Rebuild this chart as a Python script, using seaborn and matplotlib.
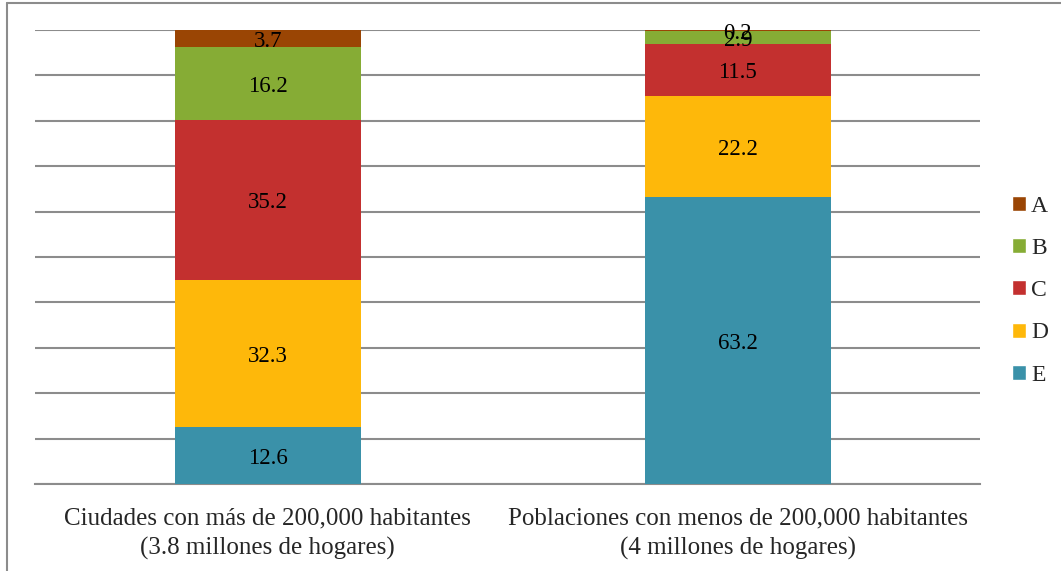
import pandas as pd
import matplotlib.pyplot as plt
import seaborn as sns
from matplotlib.patches import Patch
from matplotlib.lines import Line2D

categories = ["Ciudades con más de 200,000 habitantes\n(3.8 millones de hogares)",
              "Poblaciones con menos de 200,000 habitantes\n(4 millones de hogares)"]
segments = ["A", "B", "C", "D", "E"]
values_a = [3.7, 0.2]
values_b = [16.2, 2.9]
values_c = [35.2, 11.5]
values_d = [32.3, 22.2]
values_e = [12.6, 63.2]
colors = {"A": "#9A4504", "B": "#86AC35", "C": "#C3302F", "D": "#FEB80A", "E": "#3A91A9"}

sns.set_style("white")
plt.rcParams['font.family'] = ['Liberation Serif', 'DejaVu Serif']

df = pd.DataFrame({"cat": categories, "A": values_a, "B": values_b,
                   "C": values_c, "D": values_d, "E": values_e})

fig = plt.figure(figsize=(10.61, 5.71), dpi=100)
ax = fig.add_axes([35 / 1061, 1 - 484 / 571, 945 / 1061, 454 / 571])

# stacked bars: draw cumulative totals from the top segment down
order_bottom_up = ["E", "D", "C", "B", "A"]
cum = df[order_bottom_up].cumsum(axis=1)
for seg in reversed(order_bottom_up):
    sns.barplot(x=df["cat"], y=cum[seg], color=colors[seg], width=0.395,
                saturation=1, ax=ax, zorder=3, linewidth=0)

# labels in segment centers
for i in range(len(df)):
    bottom = 0
    for seg in order_bottom_up:
        v = df[seg][i]
        ax.text(i, bottom + v / 2 - 0.6, f"{v:.1f}", ha="center", va="center",
                fontsize=16.5, color="black", zorder=5)
        bottom += v

ax.set_ylim(0, 100)
ax.set_xlim(-0.495, 1.515)
ax.set_yticks(range(0, 101, 10))
ax.set_yticklabels([])
ax.tick_params(axis="y", length=0)
ax.grid(axis="y", color="#8C8C8C", linewidth=1.5, zorder=0)
ax.set_axisbelow(True)
for s in ["top", "right", "left"]:
    ax.spines[s].set_visible(False)
ax.spines["bottom"].set_color("#8C8C8C")
ax.spines["bottom"].set_linewidth(1.5)
ax.set_xlabel("")
ax.set_ylabel("")
ax.set_xticks([0, 1])
ax.set_xticklabels(categories, fontsize=18, linespacing=1.42)
ax.tick_params(axis="x", length=0, pad=17)
ax.set_xticks([-0.495, 0.51, 1.515], minor=True)
ax.tick_params(axis="x", which="minor", length=8, width=1.2, color="#8C8C8C", direction="out")

handles = [Patch(facecolor=colors[s], label=s) for s in segments]
ax.legend(handles=handles, loc="center left", bbox_to_anchor=(1012 / 1061, 280.3 / 571),
          bbox_transform=fig.transFigure, frameon=False, fontsize=17,
          handlelength=0.6, handleheight=0.6, handletextpad=0.2, labelspacing=0.9,
          borderaxespad=0, borderpad=0)

# outer frame (only left and top edges visible)
fig.add_artist(Line2D([7 / 1061, 7 / 1061], [0, 1 - 3 / 571], color="#8C8C8C", lw=1.5,
                      transform=fig.transFigure))
fig.add_artist(Line2D([7 / 1061, 1], [1 - 3 / 571, 1 - 3 / 571], color="#8C8C8C", lw=1.5,
                      transform=fig.transFigure))

fig.savefig("out.png", dpi=100)
